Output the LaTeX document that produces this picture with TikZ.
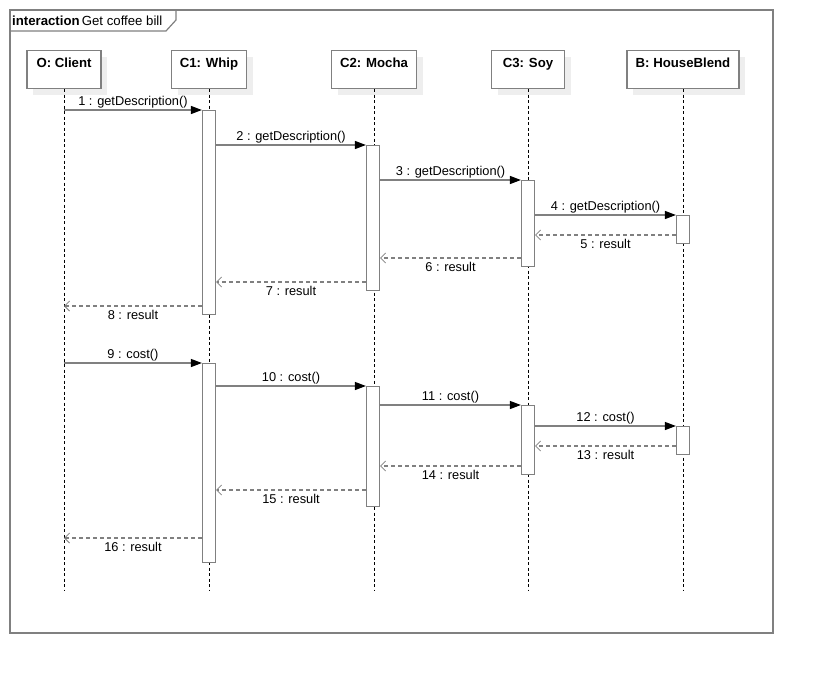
\documentclass[tikz,border=0pt]{standalone}
\usepackage{fontspec}
\setmainfont{Liberation Sans}
\usetikzlibrary{arrows.meta,shadows}

\definecolor{linegray}{HTML}{808080}
\definecolor{shadegray}{HTML}{EEEEEE}

\tikzset{
  head/.style={draw=linegray, line width=1.2pt, fill=white, minimum width=#1,
    minimum height=38pt, inner ysep=3pt, text height=14pt, text depth=18pt,
    font=\fontsize{13.2}{15}\selectfont\bfseries,
    general shadow={fill=shadegray, shadow xshift=6pt, shadow yshift=-6pt}},
  act/.style={draw=linegray, line width=1.2pt, fill=white, minimum width=13pt,
    minimum height=#1, inner sep=0pt, anchor=north},
  life/.style={black, line width=0.6pt, dash pattern=on 3pt off 2.5pt},
  call/.style={draw=linegray, line width=1.2pt, -{Triangle[length=11pt,width=8pt,color=black]}},
  reply/.style={draw=linegray, line width=1.2pt, dash pattern=on 4pt off 3pt,
    -{Straight Barb[length=5pt,width=10pt,color=linegray,line width=0.8pt]}},
  msg/.style={font=\fontsize{12.8}{15}\selectfont, inner sep=1.5pt},
  res/.style={msg, below=2.5pt},
}

\begin{document}
\begin{tikzpicture}[x=1pt, y=-1pt]
  \useasboundingbox (0,0) rectangle (813,674);
  \fill[white] (0,0) rectangle (813,674);

  % frame
  \draw[linegray, line width=1.2pt] (10,10) rectangle (773,633);
  \draw[linegray, line width=1.2pt] (10,31) -- (166,31) -- (176,20) -- (176,10);
  \node[anchor=west, inner sep=0pt, font=\fontsize{13.2}{15}\selectfont] (title) at (12,20.5)
    {\textbf{interaction}\,Get coffee bill};

  % lifelines
  \node[head=74pt,  anchor=north] (h0) at (64,50)  {O: Client};
  \node[head=75pt,  anchor=north] (h1) at (209,50) {C1: Whip};
  \node[head=85pt,  anchor=north] (h2) at (374,50) {C2: Mocha};
  \node[head=73pt,  anchor=north] (h3) at (528,50) {C3: Soy};
  \node[head=112pt, anchor=north] (h4) at (683,50) {B: HouseBlend};
  \foreach \h in {h0,h1,h2,h3,h4}
    \draw[life] (\h.south) -- (\h.south |- 0,590);

  % activations
  \node[act=204pt] (a1) at (209,110) {};
  \node[act=145pt] (a2) at (373,145) {};
  \node[act=86pt]  (a3) at (528,180) {};
  \node[act=28pt]  (a4) at (683,215) {};
  \node[act=199pt] (a5) at (209,363) {};
  \node[act=120pt] (a6) at (373,386) {};
  \node[act=69pt]  (a7) at (528,405) {};
  \node[act=28pt]  (a8) at (683,426) {};

  % getDescription
  \draw[call] (h0 |- 0,110) -- (a1.west |- 0,110) node[msg, midway, above] {1 : getDescription()};
  \draw[call] (a1.east |- 0,145) -- (a2.west |- 0,145) node[msg, midway, above] {2 : getDescription()};
  \draw[call] (a2.east |- 0,180) -- (a3.west |- 0,180) node[msg, midway, above] {3 : getDescription()};
  \draw[call] (a3.east |- 0,215) -- (a4.west |- 0,215) node[msg, midway, above] {4 : getDescription()};
  \draw[reply] (a4.west |- 0,235) -- (a3.east |- 0,235) node[res, midway] {5 : result};
  \draw[reply] (a3.west |- 0,258) -- (a2.east |- 0,258) node[res, midway] {6 : result};
  \draw[reply] (a2.west |- 0,282) -- (a1.east |- 0,282) node[res, midway] {7 : result};
  \draw[reply] (a1.west |- 0,306) -- (h0 |- 0,306) node[res, midway] {8 : result};

  % cost
  \draw[call] (h0 |- 0,363) -- (a5.west |- 0,363) node[msg, midway, above] {9 : cost()};
  \draw[call] (a5.east |- 0,386) -- (a6.west |- 0,386) node[msg, midway, above] {10 : cost()};
  \draw[call] (a6.east |- 0,405) -- (a7.west |- 0,405) node[msg, midway, above] {11 : cost()};
  \draw[call] (a7.east |- 0,426) -- (a8.west |- 0,426) node[msg, midway, above] {12 : cost()};
  \draw[reply] (a8.west |- 0,446) -- (a7.east |- 0,446) node[res, midway] {13 : result};
  \draw[reply] (a7.west |- 0,466) -- (a6.east |- 0,466) node[res, midway] {14 : result};
  \draw[reply] (a6.west |- 0,490) -- (a5.east |- 0,490) node[res, midway] {15 : result};
  \draw[reply] (a5.west |- 0,538) -- (h0 |- 0,538) node[res, midway] {16 : result};
\end{tikzpicture}
\end{document}
